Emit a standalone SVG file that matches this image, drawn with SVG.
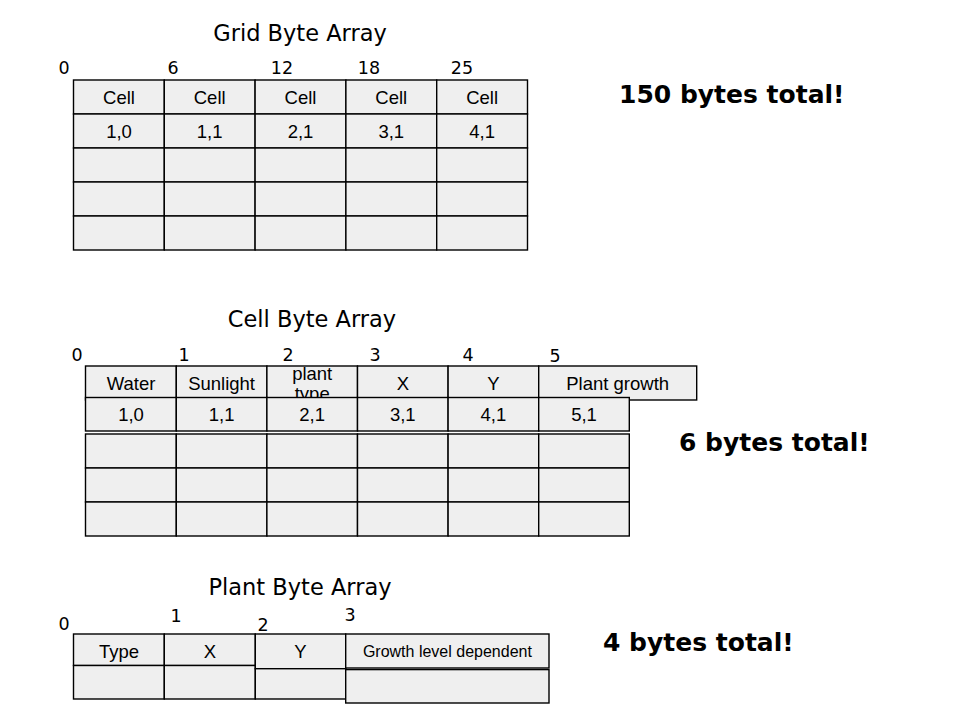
<svg xmlns="http://www.w3.org/2000/svg" width="960" height="720" viewBox="0 0 960 720">
<style>
.c{fill:#efefef;stroke:#000;stroke-width:1.4}
.t{font-family:"Liberation Sans",Arial,sans-serif;font-size:18.5px;fill:#000;text-anchor:middle}
.s{font-family:"Liberation Sans",Arial,sans-serif;font-size:16px;fill:#000;text-anchor:middle}
.n{font-family:"DejaVu Sans",Verdana,sans-serif;font-size:17.5px;fill:#000;text-anchor:middle}
.h{font-family:"DejaVu Sans",Verdana,sans-serif;font-size:22.5px;fill:#000;text-anchor:middle}
.b{font-family:"DejaVu Sans",Verdana,sans-serif;font-size:25px;font-weight:bold;fill:#000}
</style>
<rect width="960" height="720" fill="#fff"/>

<g id="grid-byte-array">
<text class="h" x="300" y="41">Grid Byte Array</text>
<text class="n" x="64" y="74">0</text>
<text class="n" x="173" y="74">6</text>
<text class="n" x="282" y="74">12</text>
<text class="n" x="369" y="74">18</text>
<text class="n" x="462" y="74">25</text>
<g id="grid-cells">
<rect class="c" x="73.5" y="80" width="90.8" height="34"/>
<rect class="c" x="164.3" y="80" width="90.8" height="34"/>
<rect class="c" x="255.1" y="80" width="90.8" height="34"/>
<rect class="c" x="345.9" y="80" width="90.8" height="34"/>
<rect class="c" x="436.7" y="80" width="90.8" height="34"/>
<rect class="c" x="73.5" y="114" width="90.8" height="34"/>
<rect class="c" x="164.3" y="114" width="90.8" height="34"/>
<rect class="c" x="255.1" y="114" width="90.8" height="34"/>
<rect class="c" x="345.9" y="114" width="90.8" height="34"/>
<rect class="c" x="436.7" y="114" width="90.8" height="34"/>
<rect class="c" x="73.5" y="148" width="90.8" height="34"/>
<rect class="c" x="164.3" y="148" width="90.8" height="34"/>
<rect class="c" x="255.1" y="148" width="90.8" height="34"/>
<rect class="c" x="345.9" y="148" width="90.8" height="34"/>
<rect class="c" x="436.7" y="148" width="90.8" height="34"/>
<rect class="c" x="73.5" y="182" width="90.8" height="34"/>
<rect class="c" x="164.3" y="182" width="90.8" height="34"/>
<rect class="c" x="255.1" y="182" width="90.8" height="34"/>
<rect class="c" x="345.9" y="182" width="90.8" height="34"/>
<rect class="c" x="436.7" y="182" width="90.8" height="34"/>
<rect class="c" x="73.5" y="216" width="90.8" height="34"/>
<rect class="c" x="164.3" y="216" width="90.8" height="34"/>
<rect class="c" x="255.1" y="216" width="90.8" height="34"/>
<rect class="c" x="345.9" y="216" width="90.8" height="34"/>
<rect class="c" x="436.7" y="216" width="90.8" height="34"/>
</g>
<text class="t" x="119" y="103.5">Cell</text>
<text class="t" x="209.7" y="103.5">Cell</text>
<text class="t" x="300.5" y="103.5">Cell</text>
<text class="t" x="391.3" y="103.5">Cell</text>
<text class="t" x="482.1" y="103.5">Cell</text>
<text class="t" x="119" y="137.5">1,0</text>
<text class="t" x="209.7" y="137.5">1,1</text>
<text class="t" x="300.5" y="137.5">2,1</text>
<text class="t" x="391.3" y="137.5">3,1</text>
<text class="t" x="482.1" y="137.5">4,1</text>
</g>
<text id="grid-total" class="b" x="619" y="103">150 bytes total!</text>

<g id="cell-byte-array">
<text class="h" x="312" y="327">Cell Byte Array</text>
<text class="n" x="77" y="361">0</text>
<text class="n" x="184" y="361">1</text>
<text class="n" x="288" y="361">2</text>
<text class="n" x="375" y="361">3</text>
<text class="n" x="468" y="361">4</text>
<text class="n" x="555" y="362">5</text>
<g id="cell-header">
<rect class="c" x="85.5" y="366" width="90.8" height="34"/>
<rect class="c" x="176.3" y="366" width="90.6" height="34"/>
<rect class="c" x="266.9" y="366" width="90.6" height="34"/>
<rect class="c" x="357.5" y="366" width="90.6" height="34"/>
<rect class="c" x="448.1" y="366" width="90.6" height="34"/>
<rect class="c" x="538.7" y="366" width="158" height="34"/>
<text class="t" x="131" y="390">Water</text>
<text class="t" x="221.6" y="390">Sunlight</text>
<text class="t" x="312.2" y="380">plant</text>
<text class="t" x="312.2" y="400">type</text>
<text class="t" x="402.8" y="390">X</text>
<text class="t" x="493.4" y="390">Y</text>
<text class="t" x="617.7" y="390">Plant growth</text>
</g>
<g id="cell-row1">
<rect class="c" x="85.5" y="397.5" width="90.8" height="33.5"/>
<rect class="c" x="176.3" y="397.5" width="90.6" height="33.5"/>
<rect class="c" x="266.9" y="397.5" width="90.6" height="33.5"/>
<rect class="c" x="357.5" y="397.5" width="90.6" height="33.5"/>
<rect class="c" x="448.1" y="397.5" width="90.6" height="33.5"/>
<rect class="c" x="538.7" y="397.5" width="90.6" height="33.5"/>
<text class="t" x="131" y="421">1,0</text>
<text class="t" x="221.6" y="421">1,1</text>
<text class="t" x="312.2" y="421">2,1</text>
<text class="t" x="402.8" y="421">3,1</text>
<text class="t" x="493.4" y="421">4,1</text>
<text class="t" x="584" y="421">5,1</text>
</g>
<g id="cell-rows">
<rect class="c" x="85.5" y="434" width="90.8" height="34"/>
<rect class="c" x="176.3" y="434" width="90.6" height="34"/>
<rect class="c" x="266.9" y="434" width="90.6" height="34"/>
<rect class="c" x="357.5" y="434" width="90.6" height="34"/>
<rect class="c" x="448.1" y="434" width="90.6" height="34"/>
<rect class="c" x="538.7" y="434" width="90.6" height="34"/>
<rect class="c" x="85.5" y="468" width="90.8" height="34"/>
<rect class="c" x="176.3" y="468" width="90.6" height="34"/>
<rect class="c" x="266.9" y="468" width="90.6" height="34"/>
<rect class="c" x="357.5" y="468" width="90.6" height="34"/>
<rect class="c" x="448.1" y="468" width="90.6" height="34"/>
<rect class="c" x="538.7" y="468" width="90.6" height="34"/>
<rect class="c" x="85.5" y="502" width="90.8" height="34"/>
<rect class="c" x="176.3" y="502" width="90.6" height="34"/>
<rect class="c" x="266.9" y="502" width="90.6" height="34"/>
<rect class="c" x="357.5" y="502" width="90.6" height="34"/>
<rect class="c" x="448.1" y="502" width="90.6" height="34"/>
<rect class="c" x="538.7" y="502" width="90.6" height="34"/>
</g>
</g>
<text id="cell-total" class="b" x="679" y="451">6 bytes total!</text>

<g id="plant-byte-array">
<text class="h" x="300" y="595">Plant Byte Array</text>
<text class="n" x="64" y="630">0</text>
<text class="n" x="176" y="622">1</text>
<text class="n" x="263" y="631">2</text>
<text class="n" x="350" y="621">3</text>
<rect class="c" x="73.5" y="634" width="90.8" height="31.5"/>
<rect class="c" x="164.3" y="634" width="91" height="31.5"/>
<rect class="c" x="73.5" y="665.5" width="90.8" height="33.5"/>
<rect class="c" x="164.3" y="665.5" width="91" height="33.5"/>
<rect class="c" x="255.3" y="634" width="90.4" height="34.7"/>
<rect class="c" x="255.3" y="668.7" width="90.4" height="30.3"/>
<rect class="c" x="345.7" y="634" width="203.3" height="34"/>
<rect class="c" x="345.7" y="669.6" width="203.3" height="33.4"/>
<text class="t" x="119" y="658">Type</text>
<text class="t" x="209.8" y="658">X</text>
<text class="t" x="300.5" y="658">Y</text>
<text class="s" x="447.4" y="657">Growth level dependent</text>
</g>
<text id="plant-total" class="b" x="603" y="651">4 bytes total!</text>
</svg>
